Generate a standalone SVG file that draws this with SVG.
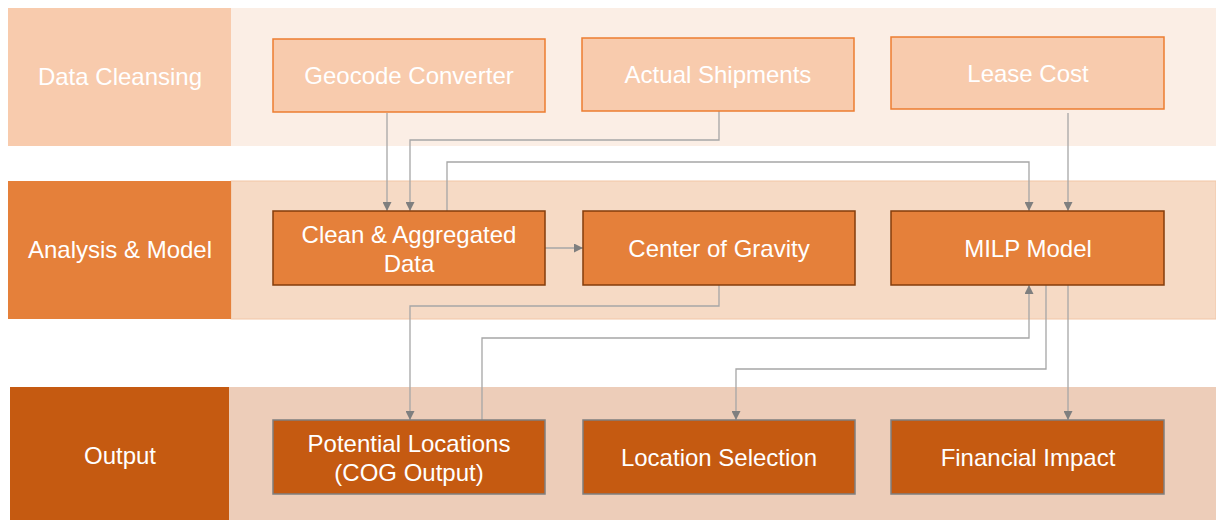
<svg xmlns="http://www.w3.org/2000/svg" width="1216" height="520" viewBox="0 0 1216 520">
  <style>
    text { font-family: "Liberation Sans", Arial, sans-serif; font-size: 24px; fill: #FFFFFF; text-anchor: middle; }
    .n1 { fill: #F8CBAD; stroke: #ED7D31; stroke-width: 1.5; }
    .n2 { fill: #E5803A; stroke: #843C0B; stroke-width: 1.5; }
    .n3 { fill: #C55A11; stroke: #7F7F7F; stroke-width: 1.5; }
    .conn { fill: none; stroke: #A6A6A6; stroke-width: 1.3; marker-end: url(#arrow); }
  </style>
  <defs>
    <marker id="arrow" markerUnits="userSpaceOnUse" markerWidth="9" markerHeight="9" refX="9" refY="4.5" orient="auto">
      <path d="M0,0 L9,4.5 L0,9 Z" fill="#7F7F7F"/>
    </marker>
  </defs>
  <rect width="1216" height="520" fill="#FFFFFF"/>

  <!-- swimlanes -->
  <g id="lanes">
    <rect x="231" y="8" width="985" height="138" fill="#FBEEE5"/>
    <rect x="8" y="8" width="223" height="138" fill="#F8CBAD"/>
    <text x="120" y="85">Data Cleansing</text>

    <rect x="231" y="181" width="985" height="138" fill="#F6DAC5" stroke="#F2C6A6" stroke-width="1"/>
    <rect x="8" y="181" width="223" height="138" fill="#E5803A"/>
    <text x="120" y="258">Analysis &amp; Model</text>

    <rect x="229" y="387" width="987" height="133" fill="#EDCDB9"/>
    <rect x="10" y="387" width="219" height="133" fill="#C55A11"/>
    <text x="120" y="464">Output</text>
  </g>

  <!-- connectors -->
  <g id="connectors">
    <path class="conn" d="M387,113 V211"/>
    <path class="conn" d="M719,111 V140 H410 V211"/>
    <path class="conn" d="M447,211 V162 H1029 V211"/>
    <path class="conn" d="M1068,113 V211"/>
    <path class="conn" d="M545,248 H583"/>
    <path class="conn" d="M719,285 V306 H410 V420"/>
    <path class="conn" d="M482,420 V338 H1029 V285"/>
    <path class="conn" d="M1046,285 V369 H736 V420"/>
    <path class="conn" d="M1068,285 V420"/>
  </g>

  <!-- row 1 -->
  <g id="geocode-converter">
    <rect class="n1" x="273" y="39" width="272" height="73"/>
    <text x="409" y="84">Geocode Converter</text>
  </g>
  <g id="actual-shipments">
    <rect class="n1" x="582" y="38" width="272" height="73"/>
    <text x="718" y="83">Actual Shipments</text>
  </g>
  <g id="lease-cost">
    <rect class="n1" x="891" y="37" width="273" height="72"/>
    <text x="1028" y="82">Lease Cost</text>
  </g>

  <!-- row 2 -->
  <g id="clean-aggregated-data">
    <rect class="n2" x="273" y="211" width="272" height="74"/>
    <text x="409" y="243">Clean &amp; Aggregated</text>
    <text x="409" y="272">Data</text>
  </g>
  <g id="center-of-gravity">
    <rect class="n2" x="583" y="211" width="272" height="74"/>
    <text x="719" y="257">Center of Gravity</text>
  </g>
  <g id="milp-model">
    <rect class="n2" x="891" y="211" width="273" height="74"/>
    <text x="1028" y="257">MILP Model</text>
  </g>

  <!-- row 3 -->
  <g id="potential-locations">
    <rect class="n3" x="273" y="420" width="272" height="74"/>
    <text x="409" y="452">Potential Locations</text>
    <text x="409" y="481">(COG Output)</text>
  </g>
  <g id="location-selection">
    <rect class="n3" x="583" y="420" width="272" height="74"/>
    <text x="719" y="466">Location Selection</text>
  </g>
  <g id="financial-impact">
    <rect class="n3" x="891" y="420" width="273" height="74"/>
    <text x="1028" y="466">Financial Impact</text>
  </g>
</svg>
